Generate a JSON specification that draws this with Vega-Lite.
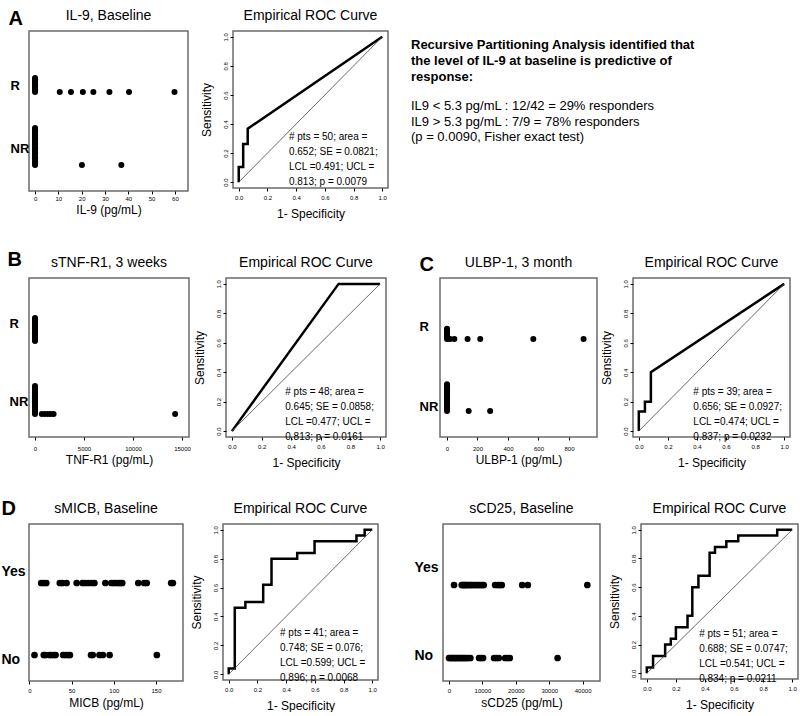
{
"$schema": "https://vega.github.io/schema/vega-lite/v6.json",
"padding": {"left": 0, "top": 7, "right": 0, "bottom": 0},
"background": "white",
"datasets": {
"il9": [
{"group":"R","value":0},{"group":"R","value":0},{"group":"R","value":0},{"group":"R","value":0},{"group":"R","value":0},{"group":"R","value":0},{"group":"R","value":0},{"group":"R","value":0},{"group":"R","value":0},{"group":"R","value":0},{"group":"R","value":0},{"group":"R","value":0},
{"group":"R","value":10.6},{"group":"R","value":15.4},{"group":"R","value":20.5},{"group":"R","value":25},{"group":"R","value":31.9},{"group":"R","value":40.3},{"group":"R","value":59.8},
{"group":"NR","value":0},{"group":"NR","value":0},{"group":"NR","value":0},{"group":"NR","value":0},{"group":"NR","value":0},{"group":"NR","value":0},{"group":"NR","value":0},{"group":"NR","value":0},{"group":"NR","value":0},{"group":"NR","value":0},
{"group":"NR","value":0},{"group":"NR","value":0},{"group":"NR","value":0},{"group":"NR","value":0},{"group":"NR","value":0},{"group":"NR","value":0},{"group":"NR","value":0},{"group":"NR","value":0},{"group":"NR","value":0},{"group":"NR","value":0},
{"group":"NR","value":0},{"group":"NR","value":0},{"group":"NR","value":0},{"group":"NR","value":0},{"group":"NR","value":0},{"group":"NR","value":0},{"group":"NR","value":0},{"group":"NR","value":0},{"group":"NR","value":0},{"group":"NR","value":0},
{"group":"NR","value":20.1},{"group":"NR","value":37}
],
"tnf": [
{"group":"R","value":0},{"group":"R","value":0},{"group":"R","value":0},{"group":"R","value":0},{"group":"R","value":0},{"group":"R","value":0},{"group":"R","value":0},{"group":"R","value":0},{"group":"R","value":0},{"group":"R","value":0},
{"group":"R","value":0},{"group":"R","value":0},{"group":"R","value":0},{"group":"R","value":0},{"group":"R","value":0},{"group":"R","value":0},{"group":"R","value":0},{"group":"R","value":0},{"group":"R","value":0},
{"group":"NR","value":0},{"group":"NR","value":0},{"group":"NR","value":0},{"group":"NR","value":0},{"group":"NR","value":0},{"group":"NR","value":0},{"group":"NR","value":0},{"group":"NR","value":0},{"group":"NR","value":0},{"group":"NR","value":0},
{"group":"NR","value":0},{"group":"NR","value":0},{"group":"NR","value":0},{"group":"NR","value":0},{"group":"NR","value":0},{"group":"NR","value":0},{"group":"NR","value":0},{"group":"NR","value":0},{"group":"NR","value":0},{"group":"NR","value":0},
{"group":"NR","value":0},{"group":"NR","value":0},{"group":"NR","value":0},
{"group":"NR","value":700},{"group":"NR","value":1000},{"group":"NR","value":1300},{"group":"NR","value":1600},{"group":"NR","value":1900},{"group":"NR","value":14300}
],
"ulbp": [
{"group":"R","value":0},{"group":"R","value":0},{"group":"R","value":0},{"group":"R","value":0},{"group":"R","value":0},{"group":"R","value":0},{"group":"R","value":0},{"group":"R","value":0},{"group":"R","value":0},
{"group":"R","value":20},{"group":"R","value":48},{"group":"R","value":135},{"group":"R","value":218},{"group":"R","value":566},{"group":"R","value":896},
{"group":"NR","value":0},{"group":"NR","value":0},{"group":"NR","value":0},{"group":"NR","value":0},{"group":"NR","value":0},{"group":"NR","value":0},{"group":"NR","value":0},{"group":"NR","value":0},{"group":"NR","value":0},{"group":"NR","value":0},
{"group":"NR","value":0},{"group":"NR","value":0},{"group":"NR","value":0},{"group":"NR","value":0},{"group":"NR","value":0},{"group":"NR","value":0},{"group":"NR","value":0},{"group":"NR","value":0},{"group":"NR","value":0},{"group":"NR","value":0},
{"group":"NR","value":0},{"group":"NR","value":0},
{"group":"NR","value":142},{"group":"NR","value":283}
],
"micb": [
{"group":"Yes","value":14},{"group":"Yes","value":17},{"group":"Yes","value":20},{"group":"Yes","value":36},{"group":"Yes","value":39},{"group":"Yes","value":44},{"group":"Yes","value":56},{"group":"Yes","value":63},{"group":"Yes","value":66},{"group":"Yes","value":70},{"group":"Yes","value":74},{"group":"Yes","value":77},
{"group":"Yes","value":90},{"group":"Yes","value":97},{"group":"Yes","value":100},{"group":"Yes","value":103},{"group":"Yes","value":106},{"group":"Yes","value":108},{"group":"Yes","value":110},{"group":"Yes","value":129},{"group":"Yes","value":136},{"group":"Yes","value":139},{"group":"Yes","value":168},{"group":"Yes","value":170},
{"group":"No","value":6},{"group":"No","value":17},{"group":"No","value":19},{"group":"No","value":24},{"group":"No","value":26},{"group":"No","value":29},{"group":"No","value":31},{"group":"No","value":40},{"group":"No","value":43},{"group":"No","value":46},{"group":"No","value":48},
{"group":"No","value":73},{"group":"No","value":75},{"group":"No","value":83},{"group":"No","value":87},{"group":"No","value":95},{"group":"No","value":151}
],
"cd25": [
{"group":"Yes","value":1500},{"group":"Yes","value":3800},{"group":"Yes","value":4100},{"group":"Yes","value":4400},{"group":"Yes","value":4700},{"group":"Yes","value":5000},{"group":"Yes","value":5400},{"group":"Yes","value":5800},{"group":"Yes","value":6200},{"group":"Yes","value":6600},{"group":"Yes","value":7000},{"group":"Yes","value":7500},{"group":"Yes","value":8000},
{"group":"Yes","value":8500},{"group":"Yes","value":9000},{"group":"Yes","value":9500},{"group":"Yes","value":10000},{"group":"Yes","value":10400},{"group":"Yes","value":13800},{"group":"Yes","value":14600},{"group":"Yes","value":15200},{"group":"Yes","value":15800},{"group":"Yes","value":21900},{"group":"Yes","value":23600},{"group":"Yes","value":41400},
{"group":"No","value":0},{"group":"No","value":400},{"group":"No","value":800},{"group":"No","value":1200},{"group":"No","value":1600},{"group":"No","value":2000},{"group":"No","value":2400},{"group":"No","value":2800},{"group":"No","value":3200},{"group":"No","value":3600},{"group":"No","value":4000},{"group":"No","value":4400},{"group":"No","value":4800},
{"group":"No","value":5300},{"group":"No","value":5800},{"group":"No","value":6400},{"group":"No","value":9000},{"group":"No","value":9600},{"group":"No","value":10200},{"group":"No","value":13500},{"group":"No","value":14200},{"group":"No","value":14900},{"group":"No","value":16800},{"group":"No","value":17500},{"group":"No","value":18200},{"group":"No","value":32500}
],
"rocA": [
{"k":1,"fpr":0,"tpr":0},{"k":2,"fpr":0,"tpr":0.105},{"k":3,"fpr":0.031,"tpr":0.105},{"k":4,"fpr":0.031,"tpr":0.263},{"k":5,"fpr":0.0625,"tpr":0.263},{"k":6,"fpr":0.0625,"tpr":0.368},{"k":7,"fpr":1,"tpr":1}
],
"rocB": [
{"k":1,"fpr":0,"tpr":0},{"k":2,"fpr":0.72,"tpr":1},{"k":3,"fpr":1,"tpr":1}
],
"rocC": [
{"k":1,"fpr":0,"tpr":0},{"k":2,"fpr":0,"tpr":0.133},{"k":3,"fpr":0.042,"tpr":0.133},{"k":4,"fpr":0.042,"tpr":0.2},{"k":5,"fpr":0.083,"tpr":0.2},{"k":6,"fpr":0.083,"tpr":0.4},{"k":7,"fpr":1,"tpr":1}
],
"rocD": [
{"k":1,"fpr":0,"tpr":0},{"k":2,"fpr":0,"tpr":0.04},{"k":3,"fpr":0.042,"tpr":0.04},{"k":4,"fpr":0.042,"tpr":0.46},{"k":5,"fpr":0.116,"tpr":0.46},{"k":6,"fpr":0.116,"tpr":0.5},{"k":7,"fpr":0.24,"tpr":0.5},{"k":8,"fpr":0.24,"tpr":0.62},{"k":9,"fpr":0.298,"tpr":0.62},{"k":10,"fpr":0.298,"tpr":0.8},
{"k":11,"fpr":0.477,"tpr":0.8},{"k":12,"fpr":0.477,"tpr":0.84},{"k":13,"fpr":0.598,"tpr":0.84},{"k":14,"fpr":0.598,"tpr":0.92},{"k":15,"fpr":0.89,"tpr":0.92},{"k":16,"fpr":0.89,"tpr":0.96},{"k":17,"fpr":0.947,"tpr":0.96},{"k":18,"fpr":0.947,"tpr":1},{"k":19,"fpr":1,"tpr":1}
],
"rocE": [
{"k":1,"fpr":0,"tpr":0},{"k":2,"fpr":0,"tpr":0.04},{"k":3,"fpr":0.043,"tpr":0.04},{"k":4,"fpr":0.043,"tpr":0.12},{"k":5,"fpr":0.126,"tpr":0.12},{"k":6,"fpr":0.126,"tpr":0.2},{"k":7,"fpr":0.165,"tpr":0.2},{"k":8,"fpr":0.165,"tpr":0.24},{"k":9,"fpr":0.2,"tpr":0.24},{"k":10,"fpr":0.2,"tpr":0.32},
{"k":11,"fpr":0.28,"tpr":0.32},{"k":12,"fpr":0.28,"tpr":0.4},{"k":13,"fpr":0.313,"tpr":0.4},{"k":14,"fpr":0.313,"tpr":0.6},{"k":15,"fpr":0.355,"tpr":0.6},{"k":16,"fpr":0.355,"tpr":0.68},{"k":17,"fpr":0.432,"tpr":0.68},{"k":18,"fpr":0.432,"tpr":0.84},{"k":19,"fpr":0.469,"tpr":0.84},{"k":20,"fpr":0.469,"tpr":0.88},
{"k":21,"fpr":0.547,"tpr":0.88},{"k":22,"fpr":0.547,"tpr":0.92},{"k":23,"fpr":0.629,"tpr":0.92},{"k":24,"fpr":0.629,"tpr":0.96},{"k":25,"fpr":0.897,"tpr":0.96},{"k":26,"fpr":0.897,"tpr":1},{"k":27,"fpr":1,"tpr":1}
]
},
"spacing": 28,
"vconcat": [
{"hconcat": [
  {"hconcat": [
    {"width": 159, "height": 160, "title": {"text": "IL-9, Baseline", "offset": -15},
     "data": {"name": "il9"},
     "transform": [{"window": [{"op": "row_number", "as": "stk"}], "groupby": ["group", "value"]}],
     "mark": {"type": "point", "filled": true, "color": "black", "opacity": 1, "size": 36},
     "encoding": {
       "x": {"field": "value", "type": "quantitative", "scale": {"domain": [-2.6, 65.6], "nice": false, "zero": false},
             "axis": {"values": [0,10,20,30,40,50,60], "tickCount": 20, "format": "d", "title": "IL-9  (pg/mL)", "labelPadding": 1, "titlePadding": 3, "labelOverlap": false, "labelFlush": false}},
       "y": {"field": "group", "type": "nominal", "sort": ["R","NR"], "scale": {"type": "point", "range": [61,134], "padding": 0},
             "axis": {"title": "A", "titleX": -21, "titleY": -23, "ticks": false, "tickSize": 0, "labelFontSize": 13, "labelFontWeight": "bold", "labelAlign": "left", "labelBaseline": "middle", "labelPadding": 19, "titleAngle": 0, "titleFontSize": 20, "titleFontWeight": "bold", "titleAlign": "left", "titleBaseline": "top",
                      "labelOffset": {"condition": {"test": "datum.value === 'R'", "value": -7}, "value": -17}}},
       "yOffset": {"field": "stk", "type": "quantitative", "scale": {"domain": [1,30], "range": [0,-37]}}
     }},
    {"width": 155, "height": 157, "title": "Empirical ROC Curve",
     "layer": [
       {"data": {"name": "rocA"}, "mark": {"type": "line", "color": "black", "strokeWidth": 2.5},
        "encoding": {
          "x": {"field": "fpr", "type": "quantitative", "scale": {"domain": [-0.04, 1.04], "nice": false, "zero": false}, "axis": {"values": [0,0.2,0.4,0.6,0.8,1], "tickCount": 20, "format": ".1f", "title": "1- Specificity", "labelPadding": 3, "titlePadding": 8, "labelOverlap": false, "labelFlush": false}},
          "y": {"field": "tpr", "type": "quantitative", "scale": {"domain": [-0.04, 1.04], "nice": false, "zero": false}, "axis": {"values": [0,0.2,0.4,0.6,0.8,1], "tickCount": 20, "format": ".1f", "title": "Sensitivity", "labelAngle": 270, "labelPadding": 2, "titlePadding": 9, "labelOverlap": false, "labelFlush": false}},
          "order": {"field": "k"}}},
       {"data": {"values": [{}]}, "mark": {"type": "rule", "color": "#444", "strokeWidth": 0.8},
        "encoding": {"x": {"datum": 0}, "y": {"datum": 0}, "x2": {"datum": 1}, "y2": {"datum": 1}}},
       {"data": {"values": [{}]}, "mark": {"type": "text", "align": "left", "baseline": "top", "fontSize": 10, "lineHeight": 15},
        "encoding": {"x": {"datum": 0.35}, "y": {"datum": 0.345}, "text": {"value": ["# pts = 50; area =", "0.652; SE = 0.0821;", "LCL =0.491; UCL =", "0.813; p = 0.0079"]}}}
     ]}
  ], "spacing": 10},
  {"width": 330, "height": 157, "view": {"stroke": null},
   "data": {"values": [{}]},
   "layer": [
     {"mark": {"type": "text", "align": "left", "baseline": "top", "fontSize": 13, "fontWeight": "bold", "lineHeight": 16},
      "encoding": {"x": {"datum": 0, "type": "quantitative", "scale": {"domain": [0,1]}, "axis": null},
                   "y": {"datum": 0.95, "type": "quantitative", "scale": {"domain": [0,1]}, "axis": null},
                   "text": {"value": ["Recursive Partitioning Analysis identified that", "the level of IL-9 at baseline is predictive of", "response:"]}}},
     {"mark": {"type": "text", "align": "left", "baseline": "top", "fontSize": 13, "lineHeight": 15.5},
      "encoding": {"x": {"datum": 0, "type": "quantitative"}, "y": {"datum": 0.56, "type": "quantitative"},
                   "text": {"value": ["IL9 < 5.3 pg/mL :  12/42 = 29% responders", "IL9 > 5.3 pg/mL : 7/9 = 78%  responders", "(p = 0.0090, Fisher exact test)"]}}}
   ]}
 ], "spacing": 22},
{"hconcat": [
  {"hconcat": [
    {"width": 160, "height": 159, "title": {"text": "sTNF-R1, 3 weeks", "offset": -21},
     "data": {"name": "tnf"},
     "transform": [{"window": [{"op": "row_number", "as": "stk"}], "groupby": ["group", "value"]}],
     "mark": {"type": "point", "filled": true, "color": "black", "opacity": 1, "size": 36},
     "encoding": {
       "x": {"field": "value", "type": "quantitative", "scale": {"domain": [-612, 15714], "nice": false, "zero": false},
             "axis": {"values": [0,5000,10000,15000], "tickCount": 20, "format": "d", "title": "TNF-R1  (pg/mL)", "labelPadding": 5, "titlePadding": 3, "labelOverlap": false, "labelFlush": false}},
       "y": {"field": "group", "type": "nominal", "sort": ["R","NR"], "scale": {"type": "point", "range": [63,136], "padding": 0},
             "axis": {"title": "B", "titleX": -22, "titleY": -29, "ticks": false, "tickSize": 0, "labelFontSize": 13, "labelFontWeight": "bold", "labelAlign": "left", "labelBaseline": "middle", "labelPadding": 20, "titleAngle": 0, "titleFontSize": 20, "titleFontWeight": "bold", "titleAlign": "left", "titleBaseline": "top",
                      "labelOffset": {"condition": {"test": "datum.value === 'R'", "value": -18}, "value": -13}}},
       "yOffset": {"field": "stk", "type": "quantitative", "scale": {"domain": [1,23], "range": [0,-38.5]}}
     }},
    {"width": 160, "height": 159, "title": "Empirical ROC Curve",
     "layer": [
       {"data": {"name": "rocB"}, "mark": {"type": "line", "color": "black", "strokeWidth": 2.5},
        "encoding": {
          "x": {"field": "fpr", "type": "quantitative", "scale": {"domain": [-0.04, 1.04], "nice": false, "zero": false}, "axis": {"values": [0,0.2,0.4,0.6,0.8,1], "tickCount": 20, "format": ".1f", "title": "1- Specificity", "labelPadding": 3, "titlePadding": 8, "labelOverlap": false, "labelFlush": false}},
          "y": {"field": "tpr", "type": "quantitative", "scale": {"domain": [-0.04, 1.04], "nice": false, "zero": false}, "axis": {"values": [0,0.2,0.4,0.6,0.8,1], "tickCount": 20, "format": ".1f", "title": "Sensitivity", "labelAngle": 270, "labelPadding": 2, "titlePadding": 9, "labelOverlap": false, "labelFlush": false}},
          "order": {"field": "k"}}},
       {"data": {"values": [{}]}, "mark": {"type": "rule", "color": "#444", "strokeWidth": 0.8},
        "encoding": {"x": {"datum": 0}, "y": {"datum": 0}, "x2": {"datum": 1}, "y2": {"datum": 1}}},
       {"data": {"values": [{}]}, "mark": {"type": "text", "align": "left", "baseline": "top", "fontSize": 10, "lineHeight": 15},
        "encoding": {"x": {"datum": 0.36}, "y": {"datum": 0.30}, "text": {"value": ["# pts = 48; area =", "0.645; SE = 0.0858;", "LCL =0.477; UCL =", "0.813; p = 0.0161"]}}}
     ]}
  ], "spacing": 0},
  {"hconcat": [
    {"width": 157, "height": 159, "title": {"text": "ULBP-1, 3 month", "offset": -16},
     "data": {"name": "ulbp"},
     "transform": [{"window": [{"op": "row_number", "as": "stk"}], "groupby": ["group", "value"]}],
     "mark": {"type": "point", "filled": true, "color": "black", "opacity": 1, "size": 36},
     "encoding": {
       "x": {"field": "value", "type": "quantitative", "scale": {"domain": [-46, 984], "nice": false, "zero": false},
             "axis": {"values": [0,200,400,600,800], "tickCount": 20, "format": "d", "title": "ULBP-1 (pg/mL)", "labelPadding": 5, "titlePadding": 3, "labelOverlap": false, "labelFlush": false}},
       "y": {"field": "group", "type": "nominal", "sort": ["R","NR"], "scale": {"type": "point", "range": [61,133], "padding": 0},
             "axis": {"title": "C", "titleX": -21, "titleY": -24, "ticks": false, "tickSize": 0, "labelFontSize": 13, "labelFontWeight": "bold", "labelAlign": "left", "labelBaseline": "middle", "labelPadding": 21, "titleAngle": 0, "titleFontSize": 20, "titleFontWeight": "bold", "titleAlign": "left", "titleBaseline": "top",
                      "labelOffset": {"condition": {"test": "datum.value === 'R'", "value": -13}, "value": -5}}},
       "yOffset": {"field": "stk", "type": "quantitative", "scale": {"domain": [1,22], "range": [0,-37]}}
     }},
    {"width": 157, "height": 159, "title": "Empirical ROC Curve",
     "layer": [
       {"data": {"name": "rocC"}, "mark": {"type": "line", "color": "black", "strokeWidth": 2.5},
        "encoding": {
          "x": {"field": "fpr", "type": "quantitative", "scale": {"domain": [-0.04, 1.04], "nice": false, "zero": false}, "axis": {"values": [0,0.2,0.4,0.6,0.8,1], "tickCount": 20, "format": ".1f", "title": "1- Specificity", "labelPadding": 3, "titlePadding": 8, "labelOverlap": false, "labelFlush": false}},
          "y": {"field": "tpr", "type": "quantitative", "scale": {"domain": [-0.04, 1.04], "nice": false, "zero": false}, "axis": {"values": [0,0.2,0.4,0.6,0.8,1], "tickCount": 20, "format": ".1f", "title": "Sensitivity", "labelAngle": 270, "labelPadding": 2, "titlePadding": 9, "labelOverlap": false, "labelFlush": false}},
          "order": {"field": "k"}}},
       {"data": {"values": [{}]}, "mark": {"type": "rule", "color": "#444", "strokeWidth": 0.8},
        "encoding": {"x": {"datum": 0}, "y": {"datum": 0}, "x2": {"datum": 1}, "y2": {"datum": 1}}},
       {"data": {"values": [{}]}, "mark": {"type": "text", "align": "left", "baseline": "top", "fontSize": 10, "lineHeight": 15},
        "encoding": {"x": {"datum": 0.375}, "y": {"datum": 0.30}, "text": {"value": ["# pts = 39; area =", "0.656; SE = 0.0927;", "LCL =0.474; UCL =", "0.837; p = 0.0232"]}}}
     ]}
  ], "spacing": 1}
 ], "spacing": 31},
{"hconcat": [
  {"hconcat": [
    {"width": 154, "height": 157, "title": {"text": "sMICB, Baseline", "offset": -18},
     "data": {"name": "micb"},
     "mark": {"type": "point", "filled": true, "color": "black", "opacity": 1, "size": 45},
     "encoding": {
       "x": {"field": "value", "type": "quantitative", "scale": {"domain": [-0.5, 182], "nice": false, "zero": false},
             "axis": {"values": [0,50,100,150], "tickCount": 20, "format": "d", "title": "MICB  (pg/mL)", "labelPadding": 3, "titlePadding": 4, "labelOverlap": false, "labelFlush": false}},
       "y": {"field": "group", "type": "nominal", "sort": ["Yes","No"], "scale": {"type": "point", "range": [59,131], "padding": 0},
             "axis": {"title": "D", "titleX": -28, "titleY": -26, "ticks": false, "tickSize": 0, "labelFontSize": 14, "labelFontWeight": "bold", "labelAlign": "left", "labelBaseline": "middle", "labelPadding": 28, "titleAngle": 0, "titleFontSize": 20, "titleFontWeight": "bold", "titleAlign": "left", "titleBaseline": "top",
                      "labelOffset": {"condition": {"test": "datum.value === 'Yes'", "value": -12}, "value": 4}}}
     }},
    {"width": 155, "height": 156, "title": "Empirical ROC Curve",
     "layer": [
       {"data": {"name": "rocD"}, "mark": {"type": "line", "color": "black", "strokeWidth": 2.5},
        "encoding": {
          "x": {"field": "fpr", "type": "quantitative", "scale": {"domain": [-0.04, 1.04], "nice": false, "zero": false}, "axis": {"values": [0,0.2,0.4,0.6,0.8,1], "tickCount": 20, "format": ".1f", "title": "1- Specificity", "labelPadding": 3, "titlePadding": 8, "labelOverlap": false, "labelFlush": false}},
          "y": {"field": "tpr", "type": "quantitative", "scale": {"domain": [-0.04, 1.04], "nice": false, "zero": false}, "axis": {"values": [0,0.2,0.4,0.6,0.8,1], "tickCount": 20, "format": ".1f", "title": "Sensitivity", "labelAngle": 270, "labelPadding": 2, "titlePadding": 9, "labelOverlap": false, "labelFlush": false}},
          "order": {"field": "k"}}},
       {"data": {"values": [{}]}, "mark": {"type": "rule", "color": "#444", "strokeWidth": 0.8},
        "encoding": {"x": {"datum": 0}, "y": {"datum": 0}, "x2": {"datum": 1}, "y2": {"datum": 1}}},
       {"data": {"values": [{}]}, "mark": {"type": "text", "align": "left", "baseline": "top", "fontSize": 10, "lineHeight": 15},
        "encoding": {"x": {"datum": 0.357}, "y": {"datum": 0.32}, "text": {"value": ["# pts = 41; area =", "0.748; SE = 0.076;", "LCL =0.599; UCL =", "0.896; p = 0.0068"]}}}
     ]}
  ], "spacing": 5},
  {"hconcat": [
    {"width": 157, "height": 157, "title": {"text": "sCD25, Baseline", "offset": 8},
     "data": {"name": "cd25"},
     "mark": {"type": "point", "filled": true, "color": "black", "opacity": 1, "size": 45},
     "encoding": {
       "x": {"field": "value", "type": "quantitative", "scale": {"domain": [-1800, 45200], "nice": false, "zero": false},
             "axis": {"values": [0,10000,20000,30000,40000], "tickCount": 20, "format": "d", "title": "sCD25 (pg/mL)", "labelPadding": 3, "titlePadding": 4, "labelOverlap": false, "labelFlush": false}},
       "y": {"field": "group", "type": "nominal", "sort": ["Yes","No"], "scale": {"type": "point", "range": [61,134], "padding": 0},
             "axis": {"title": null, "ticks": false, "tickSize": 0, "labelFontSize": 14, "labelFontWeight": "bold", "labelAlign": "left", "labelBaseline": "middle", "labelPadding": 29,
                      "labelOffset": {"condition": {"test": "datum.value === 'Yes'", "value": -18}, "value": -3}}}
     }},
    {"width": 157, "height": 155, "title": "Empirical ROC Curve",
     "layer": [
       {"data": {"name": "rocE"}, "mark": {"type": "line", "color": "black", "strokeWidth": 2.5},
        "encoding": {
          "x": {"field": "fpr", "type": "quantitative", "scale": {"domain": [-0.04, 1.04], "nice": false, "zero": false}, "axis": {"values": [0,0.2,0.4,0.6,0.8,1], "tickCount": 20, "format": ".1f", "title": "1- Specificity", "labelPadding": 3, "titlePadding": 8, "labelOverlap": false, "labelFlush": false}},
          "y": {"field": "tpr", "type": "quantitative", "scale": {"domain": [-0.04, 1.04], "nice": false, "zero": false}, "axis": {"values": [0,0.2,0.4,0.6,0.8,1], "tickCount": 20, "format": ".1f", "title": "Sensitivity", "labelAngle": 270, "labelPadding": 2, "titlePadding": 9, "labelOverlap": false, "labelFlush": false}},
          "order": {"field": "k"}}},
       {"data": {"values": [{}]}, "mark": {"type": "rule", "color": "#444", "strokeWidth": 0.8},
        "encoding": {"x": {"datum": 0}, "y": {"datum": 0}, "x2": {"datum": 1}, "y2": {"datum": 1}}},
       {"data": {"values": [{}]}, "mark": {"type": "text", "align": "left", "baseline": "top", "fontSize": 10, "lineHeight": 15},
        "encoding": {"x": {"datum": 0.36}, "y": {"datum": 0.31}, "text": {"value": ["# pts = 51; area =", "0.688; SE = 0.0747;", "LCL =0.541; UCL =", "0.834; p = 0.0211"]}}}
     ]}
  ], "spacing": 6}
 ], "spacing": 34}
],
"config": {
  "font": "Liberation Sans",
  "view": {"stroke": "#6b6b6b", "strokeWidth": 1.5},
  "title": {"fontSize": 14, "fontWeight": "normal", "offset": 8, "color": "black", "frame": "group"},
  "axis": {"grid": false, "domain": false, "labelColor": "black", "titleColor": "black", "tickColor": "black", "labelFontSize": 6, "titleFontSize": 12, "titleFontWeight": "normal", "tickSize": 3, "labelOverlap": false, "labelFlush": false},
  "text": {"color": "black", "font": "Liberation Sans"}
}
}
